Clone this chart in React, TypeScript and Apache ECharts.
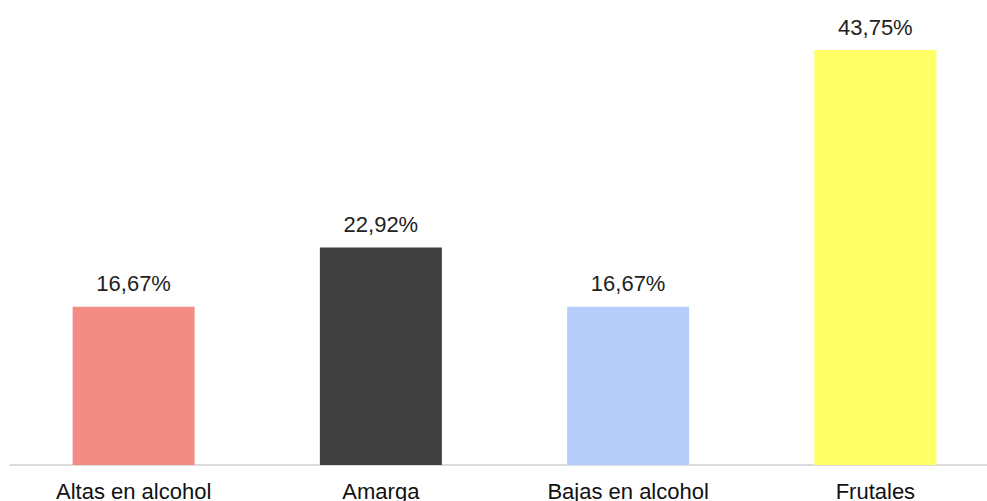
import React, { useEffect, useRef } from "react";
import * as echarts from "echarts";

const categories = ["Altas en alcohol", "Amarga", "Bajas en alcohol", "Frutales"];
const values = [16.67, 22.92, 16.67, 43.75];
const colors = ["#F28C84", "#404040", "#B4CEF9", "#FFFF66"];

export default function App() {
  const ref = useRef<HTMLDivElement>(null);
  useEffect(() => {
    const chart = echarts.init(ref.current!, null, { renderer: "svg" });
    chart.setOption({
      animation: false,
      grid: {
        left: 10,
        width: 989,
        top: 50,
        height: 415,
        containLabel: false,
        outerBoundsMode: "none",
      },
      xAxis: {
        type: "category",
        data: categories,
        axisTick: { show: false },
        axisLine: { lineStyle: { color: "#D0D0D0", width: 1.5 } },
        axisLabel: {
          color: "#111",
          fontSize: 22,
          fontFamily: "Liberation Sans, Arial, sans-serif",
          margin: 15,
          interval: 0,
        },
      },
      yAxis: {
        type: "value",
        min: 0,
        max: 43.75,
        show: false,
        splitLine: { show: false },
      },
      series: [
        {
          type: "bar",
          barWidth: 122,
          clip: false,
          data: values.map((v, i) => ({ value: v, itemStyle: { color: colors[i] } })),
          label: {
            show: true,
            position: "top",
            distance: 12,
            color: "#222",
            fontSize: 22,
            fontFamily: "Liberation Sans, Arial, sans-serif",
            formatter: (p: any) => p.value.toFixed(2).replace(".", ",") + "%",
          },
        },
      ],
    });
    return () => chart.dispose();
  }, []);
  return (
    <div
      ref={ref}
      style={{ position: "fixed", left: 0, top: 0, width: 987, height: 501, background: "#fff" }}
    />
  );
}
